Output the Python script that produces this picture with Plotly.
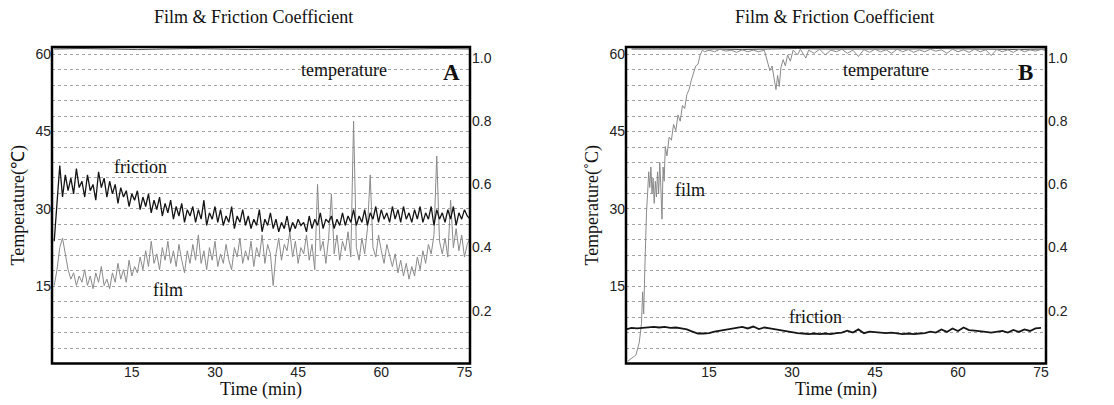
import plotly.graph_objects as go

# ---------------- Panel A data ----------------
# sampled every 0.5 min starting at 1.0 min
friction_a = [
    0.42, 0.53, 0.66, 0.56, 0.63, 0.58, 0.62, 0.57, 0.65, 0.59,
    0.61, 0.56, 0.63, 0.58, 0.60, 0.55, 0.64, 0.59, 0.62, 0.56,
    0.61, 0.57, 0.60, 0.54, 0.59, 0.56, 0.58, 0.53, 0.57, 0.55,
    0.58, 0.52, 0.56, 0.53, 0.57, 0.51, 0.55, 0.52, 0.56, 0.50,
    0.54, 0.51, 0.55, 0.49, 0.53, 0.50, 0.54, 0.48, 0.52, 0.50,
    0.53, 0.48, 0.52, 0.49, 0.55, 0.47, 0.51, 0.49, 0.53, 0.48,
    0.52, 0.47, 0.50, 0.48, 0.53, 0.46, 0.50, 0.48, 0.52, 0.47,
    0.50, 0.46, 0.49, 0.47, 0.52, 0.45, 0.49, 0.47, 0.51, 0.46,
    0.49, 0.45, 0.48, 0.46, 0.50, 0.45, 0.48, 0.46, 0.49, 0.47,
    0.48, 0.45, 0.50, 0.46, 0.49, 0.47, 0.51, 0.46, 0.49, 0.48,
    0.50, 0.46, 0.49, 0.47, 0.51, 0.47, 0.50, 0.48, 0.52, 0.47,
    0.50, 0.48, 0.52, 0.47, 0.51, 0.49, 0.53, 0.48, 0.52, 0.49,
    0.51, 0.48, 0.53, 0.49, 0.52, 0.48, 0.53, 0.49, 0.51, 0.48,
    0.52, 0.49, 0.53, 0.48, 0.51, 0.49, 0.53, 0.47, 0.52, 0.49,
    0.51, 0.48, 0.52, 0.49, 0.53, 0.47, 0.51, 0.49, 0.52, 0.50, 0.49,
]
film_a = [
    0.28, 0.33, 0.40, 0.43, 0.38, 0.33, 0.30, 0.32, 0.28, 0.31,
    0.29, 0.33, 0.28, 0.31, 0.27, 0.32, 0.29, 0.34, 0.28, 0.30,
    0.27, 0.32, 0.29, 0.35, 0.30, 0.33, 0.29, 0.36, 0.31, 0.34,
    0.32, 0.37, 0.33, 0.39, 0.34, 0.42, 0.35, 0.38, 0.33, 0.40,
    0.36, 0.42, 0.35, 0.39, 0.34, 0.41, 0.36, 0.32, 0.39, 0.35,
    0.41, 0.36, 0.44, 0.35, 0.39, 0.33, 0.40, 0.36, 0.42, 0.34,
    0.38, 0.35, 0.41, 0.36, 0.33, 0.40, 0.37, 0.43, 0.35, 0.39,
    0.36, 0.42, 0.34, 0.40, 0.37, 0.44, 0.35, 0.41, 0.38, 0.28,
    0.38, 0.43, 0.36, 0.41, 0.39, 0.45, 0.37, 0.42, 0.35, 0.40,
    0.38, 0.44, 0.36, 0.41, 0.33, 0.60, 0.39, 0.42, 0.35, 0.43,
    0.57, 0.38, 0.44, 0.36, 0.42, 0.39, 0.45, 0.37, 0.80, 0.40,
    0.36, 0.43, 0.38, 0.46, 0.63, 0.40, 0.37, 0.44, 0.39, 0.35,
    0.41, 0.37, 0.34, 0.38, 0.32, 0.36, 0.31, 0.35, 0.30, 0.34,
    0.31, 0.37, 0.33, 0.39, 0.35, 0.41, 0.38, 0.44, 0.69, 0.42,
    0.38, 0.43, 0.37, 0.55, 0.40, 0.46, 0.39, 0.44, 0.37, 0.41, 0.43,
]
time_a = [1.0 + 0.5 * i for i in range(len(friction_a))]

temp_time = [1, 6, 11, 16, 21, 26, 31, 36, 41, 46, 51, 56, 61, 66, 71, 76]
temp_a = [61.0, 61.1, 61.0, 60.9, 61.0, 61.1, 61.0, 60.9, 61.0, 61.0, 61.1, 61.0, 60.9, 61.0, 61.1, 61.0]
temp_b = [61.0, 61.0, 61.1, 61.0, 60.9, 61.0, 61.1, 61.0, 61.0, 60.9, 61.0, 61.1, 61.0, 61.0, 60.9, 61.0]

# ---------------- Panel B data ----------------
friction_b = [
    0.141, 0.146, 0.144, 0.146, 0.147, 0.149, 0.147, 0.149, 0.146, 0.147,
    0.144, 0.141, 0.134, 0.128, 0.128, 0.129, 0.134, 0.137, 0.139, 0.142,
    0.146, 0.149, 0.144, 0.150, 0.142, 0.147, 0.144, 0.141, 0.136, 0.133,
    0.131, 0.129, 0.128, 0.126, 0.128, 0.126, 0.128, 0.126, 0.129, 0.131,
    0.137, 0.131, 0.141, 0.129, 0.134, 0.133, 0.131, 0.129, 0.131, 0.128,
    0.126, 0.128, 0.126, 0.128, 0.129, 0.134, 0.131, 0.141, 0.133, 0.144,
    0.136, 0.147, 0.139, 0.137, 0.134, 0.133, 0.131, 0.133, 0.136, 0.131,
    0.139, 0.133, 0.141, 0.136, 0.144, 0.146,
]
time_b_fric = [float(m) for m in range(len(friction_b))]

film_b_time = [
    0.3, 1.0, 1.8, 2.4, 2.8, 3.0, 3.2, 3.4, 3.5, 3.7, 3.9, 4.1, 4.3, 4.5, 4.7, 4.9,
    5.1, 5.3, 5.5, 5.7, 5.9, 6.1, 6.3, 6.5, 6.7, 6.9, 7.1, 7.4, 7.8, 8.2, 8.6, 9.0,
    9.4, 9.8, 10.2, 10.6, 11.0, 11.4, 11.8, 12.2, 12.6, 13.0, 13.4, 13.8,
    14.2, 15, 16, 17, 18, 19, 20, 21, 22, 23, 24, 25, 25.5, 26.0, 26.4, 26.8,
    27.1, 27.4, 27.7, 28.0, 28.4, 28.8, 29.2, 29.7, 30.2, 31, 31.5, 32.5, 33, 34,
    35, 36, 37, 38, 39, 40, 41, 42, 43, 44, 45, 46, 47, 48, 49, 50, 51, 52, 53,
    54, 55, 56, 57, 58, 59, 60, 61, 62, 63, 64, 65, 66, 67, 68, 69, 70, 71, 72,
    73, 74, 75, 75.9,
]
film_b = [
    0.04, 0.05, 0.06, 0.10, 0.16, 0.26, 0.19, 0.33, 0.42, 0.51, 0.57, 0.64, 0.59, 0.655, 0.57, 0.62,
    0.54, 0.61, 0.56, 0.64, 0.57, 0.67, 0.59, 0.49, 0.655, 0.61, 0.72, 0.69, 0.75, 0.74, 0.79, 0.77,
    0.82, 0.80, 0.85, 0.84, 0.885, 0.90, 0.93, 0.95, 0.975, 0.98, 1.01, 1.025,
    1.02, 1.025, 1.02, 1.028, 1.022, 1.025, 1.018, 1.026, 1.02, 1.025, 1.02, 1.025, 0.99, 0.96, 0.975, 0.93,
    0.90, 0.945, 0.91, 0.97, 0.995, 0.975, 1.01, 0.99, 1.025, 1.01, 1.028, 1.0, 1.025, 1.015,
    1.028, 1.01, 1.025, 1.02, 1.028, 1.015, 1.025, 1.005, 1.027, 1.018, 1.028, 1.02, 1.026, 1.015, 1.028, 1.02, 1.027, 1.018, 1.026,
    1.02, 1.028, 1.022, 1.026, 1.015, 1.028, 1.02, 1.026, 1.018, 1.028, 1.02, 1.026, 1.008, 1.027, 1.02, 1.026, 1.018, 1.028, 1.02,
    1.026, 1.022, 1.027, 1.024,
]

left_ticks = [15, 30, 45, 60]
right_ticks = [0.2, 0.4, 0.6, 0.8, 1.0]
x_ticks = [15, 30, 45, 60, 75]

# ---------------- Figure ----------------
W, H = 1114, 405
SERIF = "Liberation Serif, Times New Roman, serif"
SANS = "Liberation Sans, Arial, sans-serif"
FRIC = "#151515"
FILM = "#8a8a8a"
GRID = "#a3a3a3"

fig = go.Figure()
# panel A
fig.add_trace(go.Scatter(x=temp_time, y=temp_a, xaxis="x", yaxis="y", mode="lines",
                         line=dict(color="#555555", width=1), name="temperature"))
fig.add_trace(go.Scatter(x=time_a, y=film_a, xaxis="x", yaxis="y2", mode="lines",
                         line=dict(color=FILM, width=1), name="film"))
fig.add_trace(go.Scatter(x=time_a, y=friction_a, xaxis="x", yaxis="y2", mode="lines",
                         line=dict(color=FRIC, width=1.3), name="friction"))
# panel B
fig.add_trace(go.Scatter(x=temp_time, y=temp_b, xaxis="x2", yaxis="y3", mode="lines",
                         line=dict(color="#555555", width=1), name="temperature"))
fig.add_trace(go.Scatter(x=film_b_time, y=film_b, xaxis="x2", yaxis="y4", mode="lines",
                         line=dict(color=FILM, width=1), name="film"))
fig.add_trace(go.Scatter(x=time_b_fric, y=friction_b, xaxis="x2", yaxis="y4", mode="lines",
                         line=dict(color=FRIC, width=1.8), name="friction"))

ydom = [1 - 363.5 / H, 1 - 47 / H]
xdomA = [52 / W, 470 / W]
xdomB = [626 / W, 1046 / W]

tickfont = dict(family=SANS, size=14, color="#222222")
titlefont = dict(family=SERIF, size=18, color="#111111")


def xax(dom, anchor, rng):
    return dict(domain=dom, anchor=anchor, range=rng, tickmode="array", tickvals=x_ticks,
                showgrid=False, zeroline=False, showline=False, ticks="", ticklen=0,
                ticklabelstandoff=-2,
                tickfont=tickfont, title=dict(text="Time (min)", font=titlefont, standoff=0))


def yleft(anchor, title):
    return dict(domain=ydom, anchor=anchor, range=[0.01, 61.4], tickmode="linear", tick0=0, dtick=15,
                showgrid=True, gridcolor=GRID, griddash="dot", gridwidth=1,
                minor=dict(tick0=0, dtick=3, showgrid=True, gridcolor=GRID, griddash="dot", gridwidth=1),
                zeroline=False, showline=False, ticks="", ticklen=0, ticklabelstandoff=0,
                tickfont=tickfont,
                title=dict(text=title, font=titlefont, standoff=6))


def yright(over, anchor):
    return dict(overlaying=over, anchor=anchor, side="right", range=[0.033, 1.035],
                tickmode="array", tickvals=right_ticks, tickformat=".1f",
                showgrid=False, zeroline=False, showline=False, ticks="", ticklen=0,
                ticklabelstandoff=1, tickfont=tickfont)


ann = []


def label(text, px, py, size=18, bold=False):
    ann.append(dict(text=("<b>%s</b>" % text) if bold else text, x=px / W, y=1 - py / H,
                    xref="paper", yref="paper", showarrow=False, xanchor="center", yanchor="middle",
                    font=dict(family=SERIF, size=size, color="#111111")))


label("Film &amp; Friction Coefficient", 253, 17)
label("Film &amp; Friction Coefficient", 835, 17)
label("friction", 140, 167)
label("film", 168, 290)
label("temperature", 344, 70)
label("A", 451, 72, size=23, bold=True)
label("temperature", 886, 70)
label("B", 1025, 72, size=23, bold=True)
label("film", 690, 190)
label("friction", 815, 317)

shapes = [
    dict(type="rect", xref="x domain", yref="y domain", x0=0, x1=1, y0=0, y1=1,
         line=dict(color="black", width=2.5)),
    dict(type="rect", xref="x2 domain", yref="y3 domain", x0=0, x1=1, y0=0, y1=1,
         line=dict(color="black", width=2.5)),
]

fig.update_layout(
    template="none",
    width=W, height=H,
    margin=dict(l=0, r=0, t=0, b=0, pad=0),
    paper_bgcolor="white", plot_bgcolor="white",
    showlegend=False,
    xaxis=xax(xdomA, "y", [0.6, 76.0]),
    yaxis=yleft("x", "Temperature(℃)"),
    yaxis2=yright("y", "x"),
    xaxis2=xax(xdomB, "y3", [0.0, 75.9]),
    yaxis3=yleft("x2", "Temperature(˚C)"),
    yaxis4=yright("y3", "x2"),
    annotations=ann,
    shapes=shapes,
)

fig.write_html("out.html", config={"displayModeBar": False},
               post_script="document.body.style.margin='0';document.body.style.overflow='hidden';")
